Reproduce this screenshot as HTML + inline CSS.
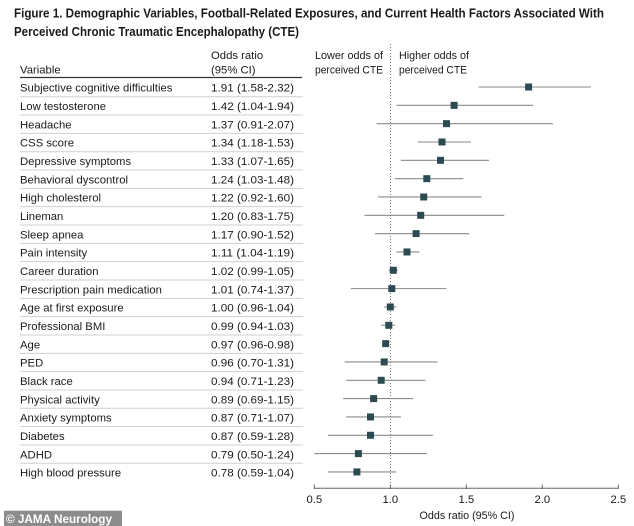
<!DOCTYPE html>
<html><head><meta charset="utf-8"><style>
html,body{margin:0;padding:0;background:#fff;}
svg{display:block;}
text{font-family:"Liberation Sans",Arial,sans-serif;fill:#1a1a1a;}
</style></head><body>
<svg width="634" height="526" viewBox="0 0 634 526" xmlns="http://www.w3.org/2000/svg">
<rect width="634" height="526" fill="#fff"/>
<text x="14" y="17.3" font-size="12.5" font-weight="bold" textLength="590" lengthAdjust="spacingAndGlyphs">Figure 1.  Demographic Variables, Football-Related Exposures, and Current Health Factors Associated With</text>
<text x="14" y="36" font-size="12.5" font-weight="bold" textLength="285" lengthAdjust="spacingAndGlyphs">Perceived Chronic Traumatic Encephalopathy (CTE)</text>

<text x="20" y="73.3" font-size="11.3">Variable</text>
<text x="211" y="59" font-size="11.3">Odds ratio</text>
<text x="211" y="73.3" font-size="11.3">(95% CI)</text>
<text x="315" y="59" font-size="11.3" textLength="68" lengthAdjust="spacingAndGlyphs">Lower odds of</text>
<text x="315" y="73.3" font-size="11.3" textLength="68" lengthAdjust="spacingAndGlyphs">perceived CTE</text>
<text x="399" y="59" font-size="11.3" textLength="70" lengthAdjust="spacingAndGlyphs">Higher odds of</text>
<text x="399" y="73.3" font-size="11.3" textLength="68" lengthAdjust="spacingAndGlyphs">perceived CTE</text>

<line x1="20" y1="77.5" x2="302" y2="77.5" stroke="#333" stroke-width="1.3"/>
<line x1="390.5" y1="44" x2="390.5" y2="488" stroke="#777" stroke-width="1" stroke-dasharray="1,2"/>

<line x1="314.3" y1="488.3" x2="618.3" y2="488.3" stroke="#666" stroke-width="1"/>
<g stroke="#666" stroke-width="1">
<line x1="314.3" y1="484.5" x2="314.3" y2="489"/>
<line x1="390.3" y1="484.5" x2="390.3" y2="489"/>
<line x1="466.3" y1="484.5" x2="466.3" y2="489"/>
<line x1="542.3" y1="484.5" x2="542.3" y2="489"/>
<line x1="618.3" y1="484.5" x2="618.3" y2="489"/>
</g>
<g font-size="11.3" text-anchor="middle">
<text x="314.3" y="503">0.5</text>
<text x="390.3" y="503">1.0</text>
<text x="466.3" y="503">1.5</text>
<text x="542.3" y="503">2.0</text>
<text x="618.3" y="503">2.5</text>
<text x="467" y="519" textLength="95" lengthAdjust="spacingAndGlyphs">Odds ratio (95% CI)</text>
</g>

<rect x="4" y="510.7" width="118" height="15.3" fill="#8c8c8c"/>
<text x="6" y="523" font-size="12" font-weight="bold" style="fill:#fff" textLength="106" lengthAdjust="spacingAndGlyphs">© JAMA Neurology</text>

<!-- rows -->
<g font-size="11.3">
<text x="20" y="91.7">Subjective cognitive difficulties</text><text x="211" y="91.7" textLength="83" lengthAdjust="spacingAndGlyphs">1.91 (1.58-2.32)</text>
<text x="20" y="110.03">Low testosterone</text><text x="211" y="110.03" textLength="83" lengthAdjust="spacingAndGlyphs">1.42 (1.04-1.94)</text>
<text x="20" y="128.36">Headache</text><text x="211" y="128.36" textLength="83" lengthAdjust="spacingAndGlyphs">1.37 (0.91-2.07)</text>
<text x="20" y="146.69">CSS score</text><text x="211" y="146.69" textLength="83" lengthAdjust="spacingAndGlyphs">1.34 (1.18-1.53)</text>
<text x="20" y="165.02">Depressive symptoms</text><text x="211" y="165.02" textLength="83" lengthAdjust="spacingAndGlyphs">1.33 (1.07-1.65)</text>
<text x="20" y="183.35">Behavioral dyscontrol</text><text x="211" y="183.35" textLength="83" lengthAdjust="spacingAndGlyphs">1.24 (1.03-1.48)</text>
<text x="20" y="201.68">High cholesterol</text><text x="211" y="201.68" textLength="83" lengthAdjust="spacingAndGlyphs">1.22 (0.92-1.60)</text>
<text x="20" y="220.01">Lineman</text><text x="211" y="220.01" textLength="83" lengthAdjust="spacingAndGlyphs">1.20 (0.83-1.75)</text>
<text x="20" y="238.34">Sleep apnea</text><text x="211" y="238.34" textLength="83" lengthAdjust="spacingAndGlyphs">1.17 (0.90-1.52)</text>
<text x="20" y="256.67">Pain intensity</text><text x="211" y="256.67" textLength="83" lengthAdjust="spacingAndGlyphs">1.11 (1.04-1.19)</text>
<text x="20" y="275.0">Career duration</text><text x="211" y="275.0" textLength="83" lengthAdjust="spacingAndGlyphs">1.02 (0.99-1.05)</text>
<text x="20" y="293.33">Prescription pain medication</text><text x="211" y="293.33" textLength="83" lengthAdjust="spacingAndGlyphs">1.01 (0.74-1.37)</text>
<text x="20" y="311.66">Age at first exposure</text><text x="211" y="311.66" textLength="83" lengthAdjust="spacingAndGlyphs">1.00 (0.96-1.04)</text>
<text x="20" y="329.99">Professional BMI</text><text x="211" y="329.99" textLength="83" lengthAdjust="spacingAndGlyphs">0.99 (0.94-1.03)</text>
<text x="20" y="348.32">Age</text><text x="211" y="348.32" textLength="83" lengthAdjust="spacingAndGlyphs">0.97 (0.96-0.98)</text>
<text x="20" y="366.65">PED</text><text x="211" y="366.65" textLength="83" lengthAdjust="spacingAndGlyphs">0.96 (0.70-1.31)</text>
<text x="20" y="384.98">Black race</text><text x="211" y="384.98" textLength="83" lengthAdjust="spacingAndGlyphs">0.94 (0.71-1.23)</text>
<text x="20" y="403.31">Physical activity</text><text x="211" y="403.31" textLength="83" lengthAdjust="spacingAndGlyphs">0.89 (0.69-1.15)</text>
<text x="20" y="421.64">Anxiety symptoms</text><text x="211" y="421.64" textLength="83" lengthAdjust="spacingAndGlyphs">0.87 (0.71-1.07)</text>
<text x="20" y="439.97">Diabetes</text><text x="211" y="439.97" textLength="83" lengthAdjust="spacingAndGlyphs">0.87 (0.59-1.28)</text>
<text x="20" y="458.3">ADHD</text><text x="211" y="458.3" textLength="83" lengthAdjust="spacingAndGlyphs">0.79 (0.50-1.24)</text>
<text x="20" y="476.63">High blood pressure</text><text x="211" y="476.63" textLength="83" lengthAdjust="spacingAndGlyphs">0.78 (0.59-1.04)</text>
</g>

<!-- separators -->
<g stroke="#cfcfcf" stroke-width="1">
<line x1="20" y1="96.7" x2="303" y2="96.7"/>
<line x1="20" y1="115.03" x2="303" y2="115.03"/>
<line x1="20" y1="133.36" x2="303" y2="133.36"/>
<line x1="20" y1="151.69" x2="303" y2="151.69"/>
<line x1="20" y1="170.02" x2="303" y2="170.02"/>
<line x1="20" y1="188.35" x2="303" y2="188.35"/>
<line x1="20" y1="206.68" x2="303" y2="206.68"/>
<line x1="20" y1="225.01" x2="303" y2="225.01"/>
<line x1="20" y1="243.34" x2="303" y2="243.34"/>
<line x1="20" y1="261.67" x2="303" y2="261.67"/>
<line x1="20" y1="280.0" x2="303" y2="280.0"/>
<line x1="20" y1="298.33" x2="303" y2="298.33"/>
<line x1="20" y1="316.66" x2="303" y2="316.66"/>
<line x1="20" y1="334.99" x2="303" y2="334.99"/>
<line x1="20" y1="353.32" x2="303" y2="353.32"/>
<line x1="20" y1="371.65" x2="303" y2="371.65"/>
<line x1="20" y1="389.98" x2="303" y2="389.98"/>
<line x1="20" y1="408.31" x2="303" y2="408.31"/>
<line x1="20" y1="426.64" x2="303" y2="426.64"/>
<line x1="20" y1="444.97" x2="303" y2="444.97"/>
<line x1="20" y1="463.3" x2="303" y2="463.3"/>
</g>

<!-- CI lines: x = 314.3 + (v-0.5)*152 -->
<g stroke="#8a8a8a" stroke-width="1.1">
<line x1="478.5" y1="87" x2="590.9" y2="87"/>
<line x1="396.4" y1="105.33" x2="533.2" y2="105.33"/>
<line x1="376.6" y1="123.66" x2="552.9" y2="123.66"/>
<line x1="417.7" y1="141.99" x2="470.9" y2="141.99"/>
<line x1="400.9" y1="160.32" x2="489.1" y2="160.32"/>
<line x1="394.9" y1="178.65" x2="463.3" y2="178.65"/>
<line x1="378.1" y1="196.98" x2="481.5" y2="196.98"/>
<line x1="364.5" y1="215.31" x2="504.3" y2="215.31"/>
<line x1="375.1" y1="233.64" x2="469.3" y2="233.64"/>
<line x1="396.4" y1="251.97" x2="419.2" y2="251.97"/>
<line x1="388.8" y1="270.3" x2="397.9" y2="270.3"/>
<line x1="350.8" y1="288.63" x2="446.5" y2="288.63"/>
<line x1="384.2" y1="306.96" x2="396.4" y2="306.96"/>
<line x1="381.2" y1="325.29" x2="394.9" y2="325.29"/>
<line x1="384.2" y1="343.62" x2="387.3" y2="343.62"/>
<line x1="344.7" y1="361.95" x2="437.4" y2="361.95"/>
<line x1="346.2" y1="380.28" x2="425.3" y2="380.28"/>
<line x1="343.2" y1="398.61" x2="413.1" y2="398.61"/>
<line x1="346.2" y1="416.94" x2="400.9" y2="416.94"/>
<line x1="328.0" y1="435.27" x2="432.9" y2="435.27"/>
<line x1="314.3" y1="453.6" x2="426.8" y2="453.6"/>
<line x1="328.0" y1="471.93" x2="396.4" y2="471.93"/>
</g>

<!-- markers -->
<g fill="#2b4a52">
<rect x="525.1" y="83.5" width="7" height="7"/>
<rect x="450.6" y="101.83" width="7" height="7"/>
<rect x="443.0" y="120.16" width="7" height="7"/>
<rect x="438.5" y="138.49" width="7" height="7"/>
<rect x="437.0" y="156.82" width="7" height="7"/>
<rect x="423.3" y="175.15" width="7" height="7"/>
<rect x="420.2" y="193.48" width="7" height="7"/>
<rect x="417.2" y="211.81" width="7" height="7"/>
<rect x="412.6" y="230.14" width="7" height="7"/>
<rect x="403.5" y="248.47" width="7" height="7"/>
<rect x="389.8" y="266.8" width="7" height="7"/>
<rect x="388.3" y="285.13" width="7" height="7"/>
<rect x="386.8" y="303.46" width="7" height="7"/>
<rect x="385.3" y="321.79" width="7" height="7"/>
<rect x="382.2" y="340.12" width="7" height="7"/>
<rect x="380.7" y="358.45" width="7" height="7"/>
<rect x="377.7" y="376.78" width="7" height="7"/>
<rect x="370.1" y="395.11" width="7" height="7"/>
<rect x="367.0" y="413.44" width="7" height="7"/>
<rect x="367.0" y="431.77" width="7" height="7"/>
<rect x="354.9" y="450.1" width="7" height="7"/>
<rect x="353.4" y="468.43" width="7" height="7"/>
</g>
</svg>
</body></html>
